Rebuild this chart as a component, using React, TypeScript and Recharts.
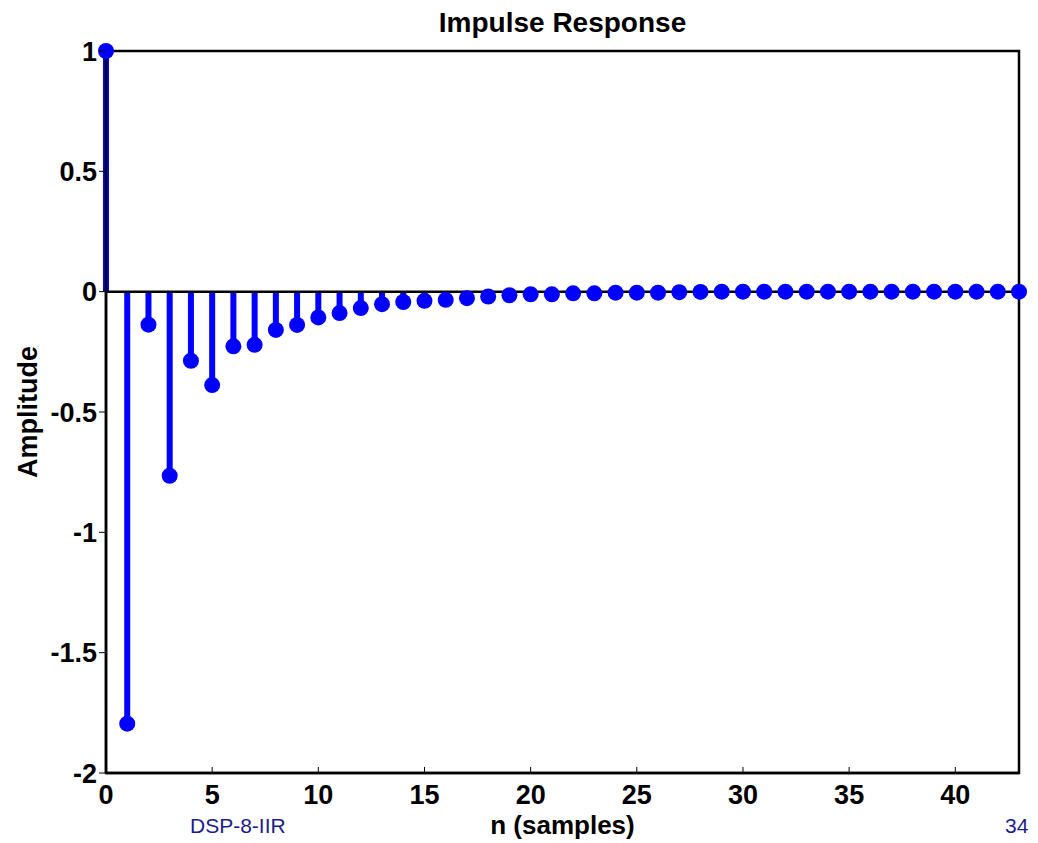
import React from 'react'
import {
  ComposedChart,
  XAxis,
  YAxis,
  Scatter,
  ReferenceLine,
  ReferenceArea,
} from 'recharts'

// sample index n
const samples = [
  0, 1, 2, 3, 4, 5, 6, 7, 8, 9, 10, 11, 12, 13, 14, 15, 16, 17, 18, 19, 20, 21,
  22, 23, 24, 25, 26, 27, 28, 29, 30, 31, 32, 33, 34, 35, 36, 37, 38, 39, 40, 41, 42, 43,
]

// impulse response h[n]
const amplitudes = [
  1.0, -1.795, -0.137, -0.765, -0.287, -0.388, -0.227, -0.221, -0.159, -0.138,
  -0.107, -0.089, -0.068, -0.052, -0.043, -0.038, -0.034, -0.027, -0.02, -0.015,
  -0.011, -0.011, -0.007, -0.007, -0.004, -0.004, -0.004, -0.002, -0.001, 0,
  0, 0, 0, 0, 0, 0, 0, 0, 0, 0, 0, 0, 0, 0,
]

const xTicks = [0, 5, 10, 15, 20, 25, 30, 35, 40]
const yTicks = [-2, -1.5, -1, -0.5, 0, 0.5, 1]

const data = samples.map((n, i) => ({ n, h: amplitudes[i] }))

const STEM = '#0000ff'
const FOOT = '#1c1c8c'
const FONT = '"Liberation Sans", Arial, sans-serif'

function XTick({ x, y, payload }: any) {
  return (
    <g>
      <line x1={x} x2={x} y1={y - 10} y2={y - 16} stroke="#000" strokeWidth={1} />
      <text x={x} y={y} dy={21} textAnchor="middle" fontFamily={FONT} fontWeight="bold" fontSize={27} fill="#000">
        {payload.value}
      </text>
    </g>
  )
}

function YTick({ x, y, payload }: any) {
  return (
    <g>
      <line x1={x + 1} x2={x + 7} y1={y} y2={y} stroke="#000" strokeWidth={1} />
      <text x={x - 1} y={y} dy={9.5} textAnchor="end" fontFamily={FONT} fontWeight="bold" fontSize={27} fill="#000">
        {payload.value}
      </text>
    </g>
  )
}

function Dot({ cx, cy }: any) {
  return <circle cx={cx} cy={cy} r={8} fill={STEM} />
}

export default function App() {
  return (
    <div style={{ position: 'relative', width: 1022, height: 835, fontFamily: FONT }}>
      <div
        style={{
          position: 'absolute', left: 98, width: 913, top: -1, textAlign: 'center',
          fontWeight: 'bold', fontSize: 28, color: '#000', whiteSpace: 'nowrap',
        }}
      >
        Impulse Response
      </div>
      <ComposedChart
        width={1022}
        height={835}
        data={data}
        margin={{ top: 43, right: 11, left: 0, bottom: 30 }}
      >
        <XAxis
          dataKey="n"
          type="number"
          domain={[0, 43]}
          ticks={xTicks}
          interval={0}
          axisLine={{ stroke: '#000', strokeWidth: 2.5 }}
          tickLine={false}
          tickSize={0}
          tickMargin={10}
          height={40}
          tick={<XTick />}
        />
        <YAxis
          type="number"
          domain={[-2, 1]}
          ticks={yTicks}
          interval={0}
          axisLine={{ stroke: '#000', strokeWidth: 2.5 }}
          tickLine={false}
          tickSize={0}
          tickMargin={8}
          width={98}
          tick={<YTick />}
          label={{
            value: 'Amplitude', angle: -90, position: 'insideLeft', offset: 19,
            style: { fontFamily: FONT, fontWeight: 'bold', fontSize: 27, fill: '#000', textAnchor: 'middle' },
          }}
        />
        <ReferenceArea x1={0} x2={43} y1={-2} y2={1} fill="none" stroke="#000" strokeWidth={2.5} />
        {data.map((d) => (
          <ReferenceLine
            key={d.n}
            segment={[{ x: d.n, y: 0 }, { x: d.n, y: d.h }]}
            stroke={STEM}
            strokeWidth={6}
          />
        ))}
        <ReferenceLine y={0} stroke="#000" strokeWidth={2.5} />
        <Scatter dataKey="h" shape={<Dot />} isAnimationActive={false} />
      </ComposedChart>
      <div
        style={{
          position: 'absolute', left: 98, width: 913, top: 802, textAlign: 'center',
          fontWeight: 'bold', fontSize: 26, color: '#000', whiteSpace: 'nowrap',
        }}
      >
        n (samples)
      </div>
      <div style={{ position: 'absolute', left: 182, top: 806, fontSize: 21, color: FOOT, whiteSpace: 'nowrap' }}>DSP-8-IIR</div>
      <div style={{ position: 'absolute', left: 997, top: 806, fontSize: 21, color: FOOT, whiteSpace: 'nowrap' }}>34</div>
    </div>
  )
}
